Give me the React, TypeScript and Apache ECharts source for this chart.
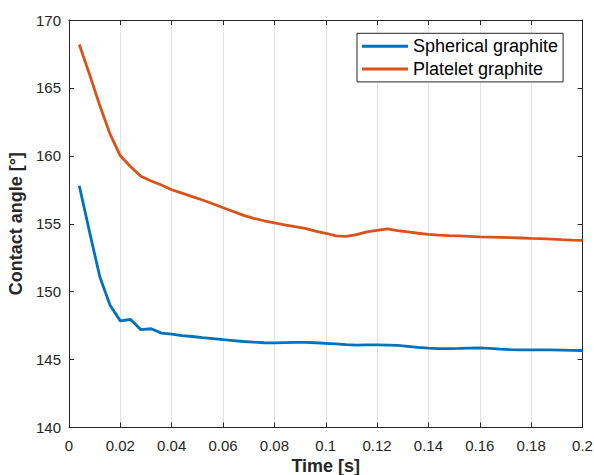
import React, { useEffect, useRef } from "react";
import * as echarts from "echarts";

const timeS = [
  0.004, 0.008, 0.012, 0.016, 0.02, 0.024, 0.028, 0.032, 0.036, 0.04,
  0.044, 0.048, 0.052, 0.056, 0.06, 0.064, 0.068, 0.072, 0.076, 0.08,
  0.084, 0.088, 0.092, 0.096, 0.1, 0.104, 0.108, 0.112, 0.116, 0.12,
  0.124, 0.128, 0.132, 0.136, 0.14, 0.144, 0.148, 0.152, 0.156, 0.16,
  0.164, 0.168, 0.172, 0.176, 0.18, 0.184, 0.188, 0.192, 0.196, 0.2,
];

const spherical = [
  157.8, 154.4, 151.1, 149.0, 147.85, 147.95, 147.2, 147.27, 146.95, 146.88,
  146.76, 146.7, 146.62, 146.55, 146.47, 146.4, 146.33, 146.28, 146.24, 146.23,
  146.25, 146.27, 146.27, 146.24, 146.2, 146.15, 146.1, 146.07, 146.08, 146.08,
  146.07, 146.05, 145.98, 145.9, 145.84, 145.8, 145.8, 145.82, 145.85, 145.86,
  145.83, 145.77, 145.73, 145.72, 145.72, 145.72, 145.71, 145.7, 145.68, 145.67,
];

const platelet = [
  168.2, 166.0, 163.7, 161.6, 160.0, 159.2, 158.5, 158.15, 157.85, 157.5,
  157.25, 157.0, 156.75, 156.47, 156.18, 155.9, 155.62, 155.4, 155.22, 155.07,
  154.92, 154.78, 154.66, 154.45, 154.3, 154.1, 154.07, 154.2, 154.4, 154.52,
  154.63, 154.5, 154.4, 154.3, 154.22, 154.17, 154.13, 154.1, 154.07, 154.04,
  154.02, 154.0, 153.98, 153.95, 153.92, 153.9, 153.87, 153.83, 153.8, 153.78,
];

const seriesNames = ["Spherical graphite", "Platelet graphite"];
const seriesColors = ["#0072BD", "#D95319"];

const FONT = "'Liberation Sans', Arial, Helvetica, sans-serif";
const AX = "#262626";

export default function App() {
  const ref = useRef<HTMLDivElement>(null);
  useEffect(() => {
    if (!ref.current) return;
    const chart = echarts.init(ref.current, undefined, { renderer: "svg" });
    const fmtX = (v: number) => (v === 0 ? "0" : String(parseFloat(v.toFixed(2))));
    const tickStyle = { show: true, inside: true, length: 5, lineStyle: { color: AX, width: 1 } };
    chart.setOption({
      animation: false,
      textStyle: { fontFamily: FONT },
      grid: {
        left: 69,
        top: 20,
        right: 11.5,
        bottom: 47.5,
        containLabel: false,
        outerBoundsMode: "none",
      },
      legend: {
        data: seriesNames,
        orient: "vertical",
        left: 357,
        top: 33.3,
        borderColor: AX,
        borderWidth: 1,
        backgroundColor: "#fff",
        padding: [3, 5, 3, 5],
        itemGap: 2.6,
        itemWidth: 46,
        itemHeight: 3,
        icon: "rect",
        textStyle: { fontFamily: FONT, fontSize: 18, color: "#000", lineHeight: 20 },
      },
      xAxis: [
        {
          type: "value",
          min: 0,
          max: 0.2,
          interval: 0.02,
          name: "Time [s]",
          nameLocation: "middle",
          nameGap: 28,
          nameTextStyle: { fontFamily: FONT, fontSize: 18, fontWeight: "bold", color: AX },
          axisLine: { show: true, onZero: false, lineStyle: { color: AX, width: 1 } },
          axisTick: tickStyle,
          axisLabel: { fontFamily: FONT, fontSize: 15, color: AX, margin: 10, formatter: fmtX },
          splitLine: { show: true, lineStyle: { color: "#e3e3e3", width: 1 } },
        },
        {
          type: "value",
          position: "top",
          min: 0,
          max: 0.2,
          interval: 0.02,
          axisLine: { show: true, onZero: false, lineStyle: { color: AX, width: 1 } },
          axisTick: tickStyle,
          axisLabel: { show: false },
          splitLine: { show: false },
        },
      ],
      yAxis: [
        {
          type: "value",
          min: 140,
          max: 170,
          interval: 5,
          name: "Contact angle [°]",
          nameLocation: "middle",
          nameGap: 36,
          nameTextStyle: { fontFamily: FONT, fontSize: 18, fontWeight: "bold", color: AX },
          axisLine: { show: true, onZero: false, lineStyle: { color: AX, width: 1 } },
          axisTick: tickStyle,
          axisLabel: { fontFamily: FONT, fontSize: 15, color: AX, margin: 8 },
          splitLine: { show: false },
        },
        {
          type: "value",
          position: "right",
          min: 140,
          max: 170,
          interval: 5,
          axisLine: { show: true, onZero: false, lineStyle: { color: AX, width: 1 } },
          axisTick: tickStyle,
          axisLabel: { show: false },
          splitLine: { show: false },
        },
      ],
      series: [
        {
          name: seriesNames[0],
          type: "line",
          data: timeS.map((t, i) => [t, spherical[i]]),
          showSymbol: false,
          symbol: "none",
          lineStyle: { color: seriesColors[0], width: 2.8 },
          itemStyle: { color: seriesColors[0] },
        },
        {
          name: seriesNames[1],
          type: "line",
          data: timeS.map((t, i) => [t, platelet[i]]),
          showSymbol: false,
          symbol: "none",
          lineStyle: { color: seriesColors[1], width: 2.8 },
          itemStyle: { color: seriesColors[1] },
        },
      ],
    });
    return () => chart.dispose();
  }, []);
  return (
    <div
      ref={ref}
      style={{ position: "fixed", left: 0, top: 0, width: 594, height: 475, background: "#fff" }}
    />
  );
}
